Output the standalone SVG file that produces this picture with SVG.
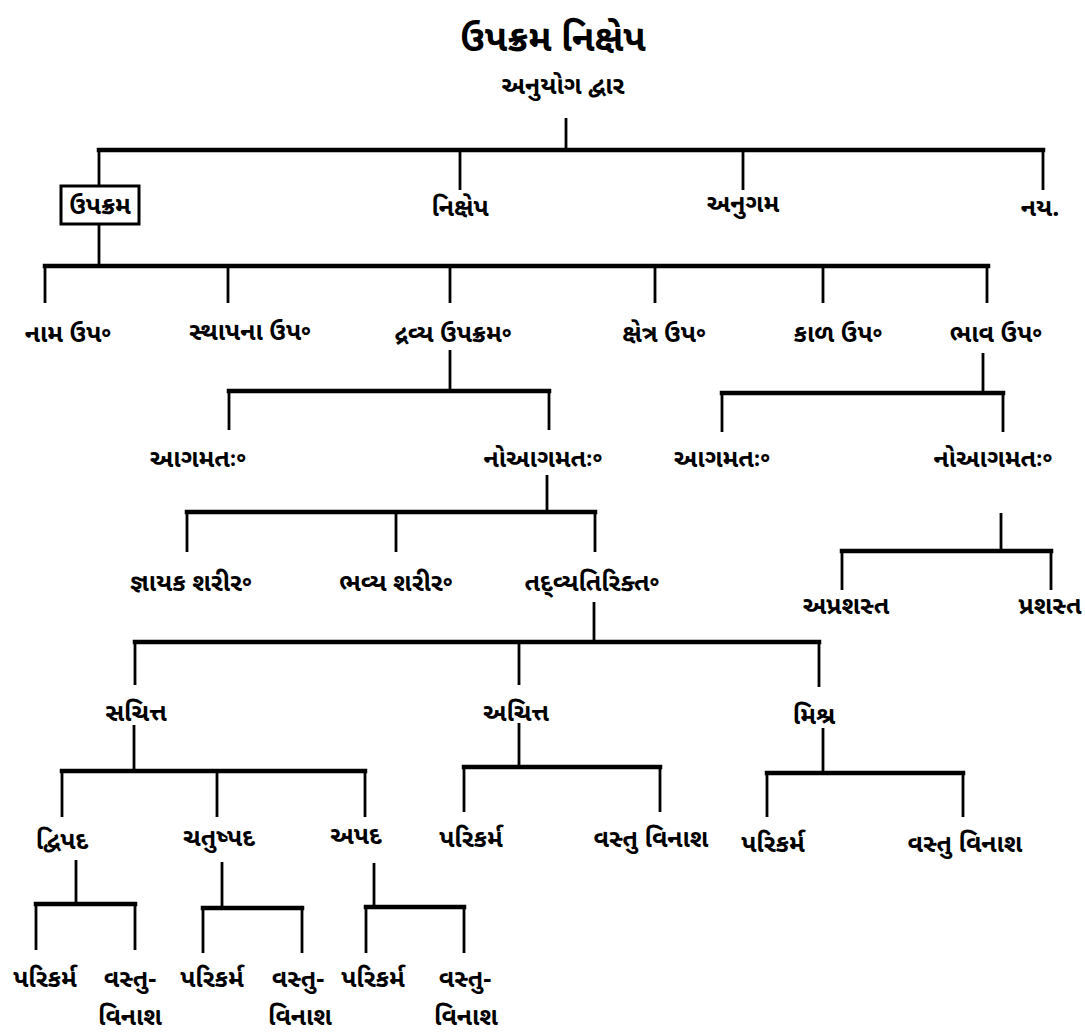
<svg xmlns="http://www.w3.org/2000/svg" width="1085" height="1033" viewBox="0 0 1085 1033">
<style>
.bg{fill:#fff}
.h{stroke:#000;stroke-width:4.5;fill:none;stroke-linecap:square}
.v{stroke:#000;stroke-width:2.8;fill:none}
text{font-family:"Noto Sans Gujarati","Lohit Gujarati","Noto Sans",sans-serif;font-size:25px;font-weight:bold;fill:#000;text-anchor:middle}
.t{font-size:37px}
.box{fill:#fff;stroke:#000;stroke-width:3}
</style>
<rect class="bg" x="0" y="0" width="1085" height="1033"/>
<g id="connectors">
<path class="v" d="M566 118V150"/>
<path class="h" d="M99 150H1043"/>
<path class="v" d="M99 150V186M460 150V190M743 150V190M1043 150V190"/>
<path class="v" d="M99 224V266"/>
<path class="h" d="M45 266H988"/>
<path class="v" d="M45 266V303M228 266V303M450 266V303M655 266V303M823 266V303M987 266V303"/>
<path class="v" d="M450 350V391"/>
<path class="h" d="M229 391H549"/>
<path class="v" d="M229 391V430M549 391V430"/>
<path class="v" d="M983 353V393"/>
<path class="h" d="M722 393H1003"/>
<path class="v" d="M722 393V432M1003 393V432"/>
<path class="v" d="M547 475V512"/>
<path class="h" d="M187 512H595"/>
<path class="v" d="M187 512V552M396 512V552M595 512V552"/>
<path class="v" d="M1001 513V551"/>
<path class="h" d="M842 551H1051"/>
<path class="v" d="M842 551V590M1051 551V590"/>
<path class="v" d="M594 602V642"/>
<path class="h" d="M135 642H819"/>
<path class="v" d="M135 642V685M519 642V685M819 642V687"/>
<path class="v" d="M134 725V771"/>
<path class="h" d="M62 771H365"/>
<path class="v" d="M62 771V817M217 771V817M365 771V817"/>
<path class="v" d="M519 723V767"/>
<path class="h" d="M464 767H660"/>
<path class="v" d="M464 767V812M660 767V812"/>
<path class="v" d="M823 728V773"/>
<path class="h" d="M767 773H963"/>
<path class="v" d="M767 773V817M963 773V817"/>
<path class="v" d="M76 860V904"/>
<path class="h" d="M36 904H135"/>
<path class="v" d="M36 904V950M135 904V950"/>
<path class="v" d="M222 862V908"/>
<path class="h" d="M203 908H302"/>
<path class="v" d="M203 908V953M302 908V953"/>
<path class="v" d="M374 863V907"/>
<path class="h" d="M366 907H464"/>
<path class="v" d="M366 907V953M464 907V953"/>
</g>
<g id="title"><text class="t" x="553" y="51">ઉપક્રમ નિક્ષેપ</text></g>
<g id="n-anuyog"><text x="563" y="94">અનુયોગ દ્વાર</text></g>
<g id="n-upakram"><rect class="box" x="61" y="186" width="78" height="38"/><text x="100" y="214">ઉપક્રમ</text></g>
<g id="n-nikshep"><text x="460" y="216">નિક્ષેપ</text></g>
<g id="n-anugam"><text x="743" y="212">અનુગમ</text></g>
<g id="n-nay"><text x="1040" y="216">નય.</text></g>
<g id="n-naam"><text x="68" y="342">નામ ઉપ૰</text></g>
<g id="n-sthapana"><text x="250" y="340">સ્થાપના ઉપ૰</text></g>
<g id="n-dravya"><text x="453" y="342">દ્રવ્ય ઉપક્રમ૰</text></g>
<g id="n-kshetra"><text x="664" y="342">ક્ષેત્ર ઉપ૰</text></g>
<g id="n-kaal"><text x="838" y="342">કાળ ઉપ૰</text></g>
<g id="n-bhaav"><text x="996" y="342">ભાવ ઉપ૰</text></g>
<g id="n-agamatah1"><text x="198" y="467">આગમતઃ૰</text></g>
<g id="n-noagamatah1"><text x="543" y="467">નોઆગમતઃ૰</text></g>
<g id="n-agamatah2"><text x="722" y="467">આગમતઃ૰</text></g>
<g id="n-noagamatah2"><text x="993" y="467">નોઆગમતઃ૰</text></g>
<g id="n-gnayak"><text x="191" y="591">જ્ઞાયક શરીર૰</text></g>
<g id="n-bhavya"><text x="396" y="591">ભવ્ય શરીર૰</text></g>
<g id="n-tadvyatirikta"><text x="592" y="591">તદ્વ્યતિરિક્ત૰</text></g>
<g id="n-aprashast"><text x="846" y="614">અપ્રશસ્ત</text></g>
<g id="n-prashast"><text x="1050" y="614">પ્રશસ્ત</text></g>
<g id="n-sachitta"><text x="136" y="721">સચિત્ત</text></g>
<g id="n-achitta"><text x="516" y="721">અચિત્ત</text></g>
<g id="n-mishra"><text x="814" y="724">મિશ્ર</text></g>
<g id="n-dvipad"><text x="62" y="849">દ્વિપદ</text></g>
<g id="n-chatushpad"><text x="219" y="846">ચતુષ્પદ</text></g>
<g id="n-apad"><text x="356" y="844">અપદ</text></g>
<g id="n-parikarma-a"><text x="471" y="847">પરિકર્મ</text></g>
<g id="n-vastu-a"><text x="651" y="847">વસ્તુ વિનાશ</text></g>
<g id="n-parikarma-m"><text x="773" y="852">પરિકર્મ</text></g>
<g id="n-vastu-m"><text x="965" y="852">વસ્તુ વિનાશ</text></g>
<g id="n-parikarma-1"><text x="45" y="987">પરિકર્મ</text></g>
<g id="n-vastu-1"><text x="130" y="987">વસ્તુ-</text><text x="130" y="1025">વિનાશ</text></g>
<g id="n-parikarma-2"><text x="212" y="987">પરિકર્મ</text></g>
<g id="n-vastu-2"><text x="298" y="987">વસ્તુ-</text><text x="300" y="1025">વિનાશ</text></g>
<g id="n-parikarma-3"><text x="373" y="987">પરિકર્મ</text></g>
<g id="n-vastu-3"><text x="465" y="987">વસ્તુ-</text><text x="466" y="1025">વિનાશ</text></g>
</svg>
